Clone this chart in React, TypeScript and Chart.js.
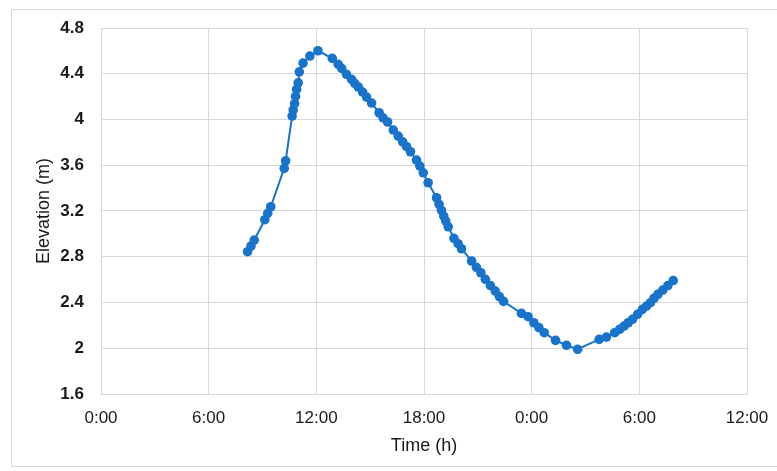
import React, { useEffect, useRef } from "react";
import { Chart, registerables } from "chart.js";

Chart.register(...registerables);

// Time in hours since 0:00 of day 1
const hours = [
  8.17, 8.36, 8.54, 9.13, 9.29, 9.46, 10.21, 10.29, 10.65, 10.71, 10.79, 10.84,
  10.9, 10.99, 11.05, 11.26, 11.64, 12.09, 12.89, 13.22, 13.41, 13.68, 13.96,
  14.14, 14.34, 14.58, 14.8, 15.08, 15.5, 15.72, 15.97, 16.29, 16.56, 16.81,
  17.03, 17.25, 17.58, 17.77, 17.96, 18.23, 18.7, 18.84, 18.97, 19.1, 19.21,
  19.35, 19.67, 19.9, 20.09, 20.65, 20.92, 21.17, 21.42, 21.7, 21.97, 22.2,
  22.43, 23.43, 23.8, 24.12, 24.4, 24.7, 25.33, 25.94, 26.56, 27.76, 28.17,
  28.63, 28.91, 29.15, 29.38, 29.62, 29.9, 30.17, 30.4, 30.62, 30.82, 31.04,
  31.31, 31.59, 31.89,
];

// Elevation in metres
const elevation = [
  2.844, 2.894, 2.946, 3.124, 3.18, 3.237, 3.573, 3.639, 4.03, 4.083, 4.138,
  4.202, 4.263, 4.321, 4.417, 4.493, 4.555, 4.601, 4.534, 4.482, 4.447, 4.395,
  4.351, 4.316, 4.284, 4.24, 4.196, 4.144, 4.059, 4.015, 3.978, 3.908, 3.855,
  3.805, 3.762, 3.718, 3.645, 3.593, 3.534, 3.447, 3.316, 3.258, 3.206, 3.156,
  3.112, 3.062, 2.961, 2.914, 2.87, 2.763, 2.708, 2.66, 2.603, 2.548, 2.5,
  2.452, 2.41, 2.305, 2.276, 2.223, 2.18, 2.136, 2.069, 2.026, 1.991, 2.078,
  2.098, 2.136, 2.166, 2.194, 2.223, 2.253, 2.297, 2.34, 2.369, 2.398, 2.437,
  2.472, 2.509, 2.548, 2.592,
];

const xTickValues = [0, 6, 12, 18, 24, 30, 36];
const xTickLabels = ["0:00", "6:00", "12:00", "18:00", "0:00", "6:00", "12:00"];
const yTickValues = [1.6, 2, 2.4, 2.8, 3.2, 3.6, 4, 4.4, 4.8];
const yTickLabels = ["1.6", "2", "2.4", "2.8", "3.2", "3.6", "4", "4.4", "4.8"];

const xTitle = "Time (h)";
const yTitle = "Elevation (m)";

const BLUE = "#1873cb";
const GRID = "#d9d9d9";
const FONT = "'Liberation Sans', Arial, sans-serif";

export default function App() {
  const ref = useRef<HTMLCanvasElement | null>(null);

  useEffect(() => {
    if (!ref.current) return;
    const points = hours.map((h, i) => ({ x: h, y: elevation[i] }));
    const chart = new Chart(ref.current, {
      type: "scatter",
      data: {
        datasets: [
          {
            data: points,
            showLine: true,
            borderColor: BLUE,
            backgroundColor: BLUE,
            borderWidth: 2,
            pointRadius: 4.8,
            pointBorderWidth: 0,
            pointBackgroundColor: BLUE,
          },
        ],
      },
      options: {
        animation: false,
        responsive: false,
        maintainAspectRatio: false,
        layout: { padding: { left: 0, top: 28, right: 30, bottom: 0 } },
        plugins: { legend: { display: false }, tooltip: { enabled: false } },
        scales: {
          x: {
            type: "linear",
            min: 0,
            max: 36,
            afterBuildTicks: (scale: any) => {
              scale.ticks = xTickValues.map((v) => ({ value: v }));
            },
            afterFit: (scale: any) => {
              scale.height = 77;
              scale.paddingLeft = 0;
              scale.paddingRight = 0;
            },
            grid: { color: GRID, lineWidth: 1, drawTicks: false },
            border: { color: GRID, width: 1 },
            ticks: {
              padding: 14,
              maxRotation: 0,
              color: "#1a1a1a",
              font: { family: FONT, size: 17 },
              callback: (v: any) => {
                const i = xTickValues.indexOf(Number(v));
                return i >= 0 ? xTickLabels[i] : "";
              },
            },
            title: {
              display: true,
              text: xTitle,
              color: "#1a1a1a",
              font: { family: FONT, size: 18 },
              padding: { top: 0, bottom: 14 },
            },
          },
          y: {
            type: "linear",
            min: 1.6,
            max: 4.8,
            afterBuildTicks: (scale: any) => {
              scale.ticks = yTickValues.map((v) => ({ value: v }));
            },
            afterFit: (scale: any) => {
              scale.width = 101;
              scale.paddingTop = 0;
              scale.paddingBottom = 0;
            },
            grid: { color: GRID, lineWidth: 1, drawTicks: false },
            border: { color: GRID, width: 1 },
            ticks: {
              padding: 17,
              color: "#1a1a1a",
              font: { family: FONT, size: 17, weight: "bold" },
              callback: (v: any) => {
                const i = yTickValues.findIndex((t) => Math.abs(t - Number(v)) < 1e-6);
                return i >= 0 ? yTickLabels[i] : "";
              },
            },
            title: {
              display: true,
              text: yTitle,
              color: "#1a1a1a",
              font: { family: FONT, size: 18 },
              padding: { top: 33, bottom: 0 },
            },
          },
        },
      },
      plugins: [
        {
          id: "rightBorder",
          afterDraw: (c: any) => {
            const a = c.chartArea;
            const ctx = c.ctx;
            ctx.save();
            ctx.strokeStyle = GRID;
            ctx.lineWidth = 1;
            ctx.beginPath();
            ctx.moveTo(Math.round(a.right) + 0.5, a.top);
            ctx.lineTo(Math.round(a.right) + 0.5, a.bottom);
            ctx.stroke();
            ctx.restore();
          },
        },
      ],
    });
    return () => chart.destroy();
  }, []);

  return (
    <div style={{ position: "fixed", left: 0, top: 0, width: 777, height: 471, background: "#fff", overflow: "hidden" }}>
      <div
        style={{
          position: "absolute",
          left: 11,
          top: 9,
          width: 780,
          height: 458,
          border: "1px solid #d9d9d9",
          boxSizing: "border-box",
        }}
      />
      <canvas ref={ref} width={777} height={471} style={{ position: "absolute", left: 0, top: 0, width: 777, height: 471 }} />
    </div>
  );
}
